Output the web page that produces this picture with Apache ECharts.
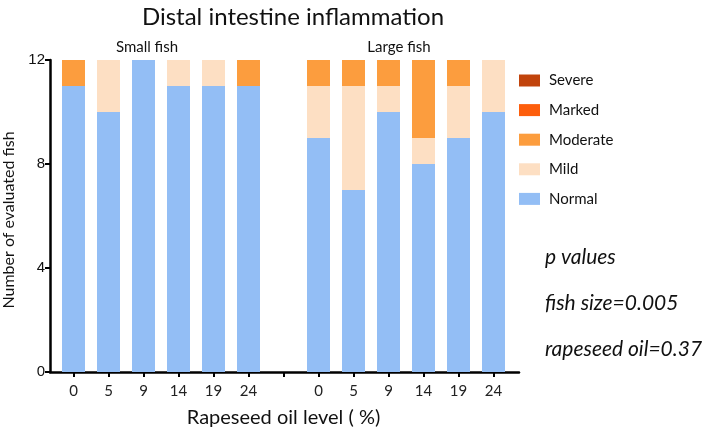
<!DOCTYPE html>
<html>
<head>
<meta charset="utf-8">
<script src="https://cdn.jsdelivr.net/npm/echarts@6/dist/echarts.min.js"></script>
<style>
html,body{margin:0;padding:0;background:#fff;}
#c{width:709px;height:432px;}
</style>
</head>
<body>
<div id="c"></div>
<script>
const categories = ['0','5','9','14','19','24','','0','5','9','14','19','24'];
const normal   = [11,10,12,11,11,11,null, 9, 7,10, 8, 9,10];
const mild     = [ 0, 2, 0, 1, 1, 0,null, 2, 4, 1, 1, 2, 2];
const moderate = [ 1, 0, 0, 0, 0, 1,null, 1, 1, 1, 3, 1, 0];
const marked   = [ 0, 0, 0, 0, 0, 0,null, 0, 0, 0, 0, 0, 0];
const severe   = [ 0, 0, 0, 0, 0, 0,null, 0, 0, 0, 0, 0, 0];
const yTicks = [0, 4, 8, 12];
const pValues = ['p values', 'fish size=0.005', 'rapeseed oil=0.37'];

const FONT = 'Lato, "Open Sans", sans-serif';
const colors = {
  Normal: '#93BEF5',
  Mild: '#FDDFC3',
  Moderate: '#FC9D3E',
  Marked: '#FD5E0C',
  Severe: '#C1440C'
};

const chart = echarts.init(document.getElementById('c'), null, {renderer: 'canvas'});

function bar(name, data) {
  return {
    name: name, type: 'bar', stack: 'a', data: data,
    barWidth: 23,
    itemStyle: {color: colors[name]},
    xAxisIndex: 0, yAxisIndex: 0,
    emphasis: {disabled: true}
  };
}

chart.setOption({
  animation: false,
  title: [
    {text: 'Distal intestine inflammation', left: 288, top: 0, textAlign: 'center',
     textStyle: {fontFamily: FONT, fontSize: 24, fontWeight: 'normal', color: '#111'}},
    {text: 'Small fish', left: 142, top: 35, textAlign: 'center',
     textStyle: {fontFamily: FONT, fontSize: 15, fontWeight: 'normal', color: '#111'}},
    {text: 'Large fish', left: 394, top: 35, textAlign: 'center',
     textStyle: {fontFamily: FONT, fontSize: 15, fontWeight: 'normal', color: '#111'}}
  ],
  legend: {
    orient: 'vertical', left: 514, top: 68,
    data: ['Severe','Marked','Moderate','Mild','Normal'],
    itemWidth: 21, itemHeight: 12, itemGap: 14.6,
    icon: 'rect',
    textStyle: {fontFamily: FONT, fontSize: 15, color: '#111', padding: [0,0,0,4]},
    selectedMode: false
  },
  grid: [
    {left: 56, width: 455, top: 60, bottom: 60, outerBoundsMode: 'none', containLabel: false},
    {left: 50, width: 469, top: 362, bottom: 60, outerBoundsMode: 'none', containLabel: false}
  ],
  xAxis: [
    {type: 'category', data: categories, gridIndex: 0,
     axisLine: {show: false},
     axisTick: {show: true, alignWithLabel: true, interval: 0, length: 5,
                lineStyle: {color: '#000', width: 2}},
     axisLabel: {interval: 0, margin: 12, fontFamily: FONT, fontSize: 15, color: '#222'},
     name: 'Rapeseed oil level ( %)', nameLocation: 'middle', nameGap: 36,
     nameTextStyle: {fontFamily: FONT, fontSize: 20, color: '#111'}},
    {type: 'value', gridIndex: 1, min: 0, max: 1,
     axisLine: {show: true, lineStyle: {color: '#000', width: 2.5}},
     axisTick: {show: false}, axisLabel: {show: false}, splitLine: {show: false}}
  ],
  yAxis: [
    {type: 'value', gridIndex: 0, min: 0, max: 12, interval: 4, offset: 6,
     axisLine: {show: true, lineStyle: {color: '#000', width: 2.5}},
     axisTick: {show: true, length: 5, lineStyle: {color: '#000', width: 2}},
     axisLabel: {margin: 5, fontFamily: '"Liberation Sans", Arial, sans-serif', fontSize: 15, color: '#111',
                 formatter: v => yTicks.includes(v) ? String(v) : ''},
     splitLine: {show: false},
     name: 'Number of evaluated fish', nameLocation: 'middle', nameGap: 33,
     nameTextStyle: {fontFamily: FONT, fontSize: 16, color: '#111', padding: [0, 8, 0, 0]}},
    {type: 'value', gridIndex: 1, show: false}
  ],
  graphic: pValues.map((t, i) => ({
    type: 'text', left: 545, top: 247 + i * 46,
    style: {text: t, font: 'italic 21px ' + FONT, fill: '#111'}
  })),
  series: [
    bar('Normal', normal),
    bar('Mild', mild),
    bar('Moderate', moderate),
    bar('Marked', marked),
    bar('Severe', severe)
  ]
});
</script>
</body>
</html>
